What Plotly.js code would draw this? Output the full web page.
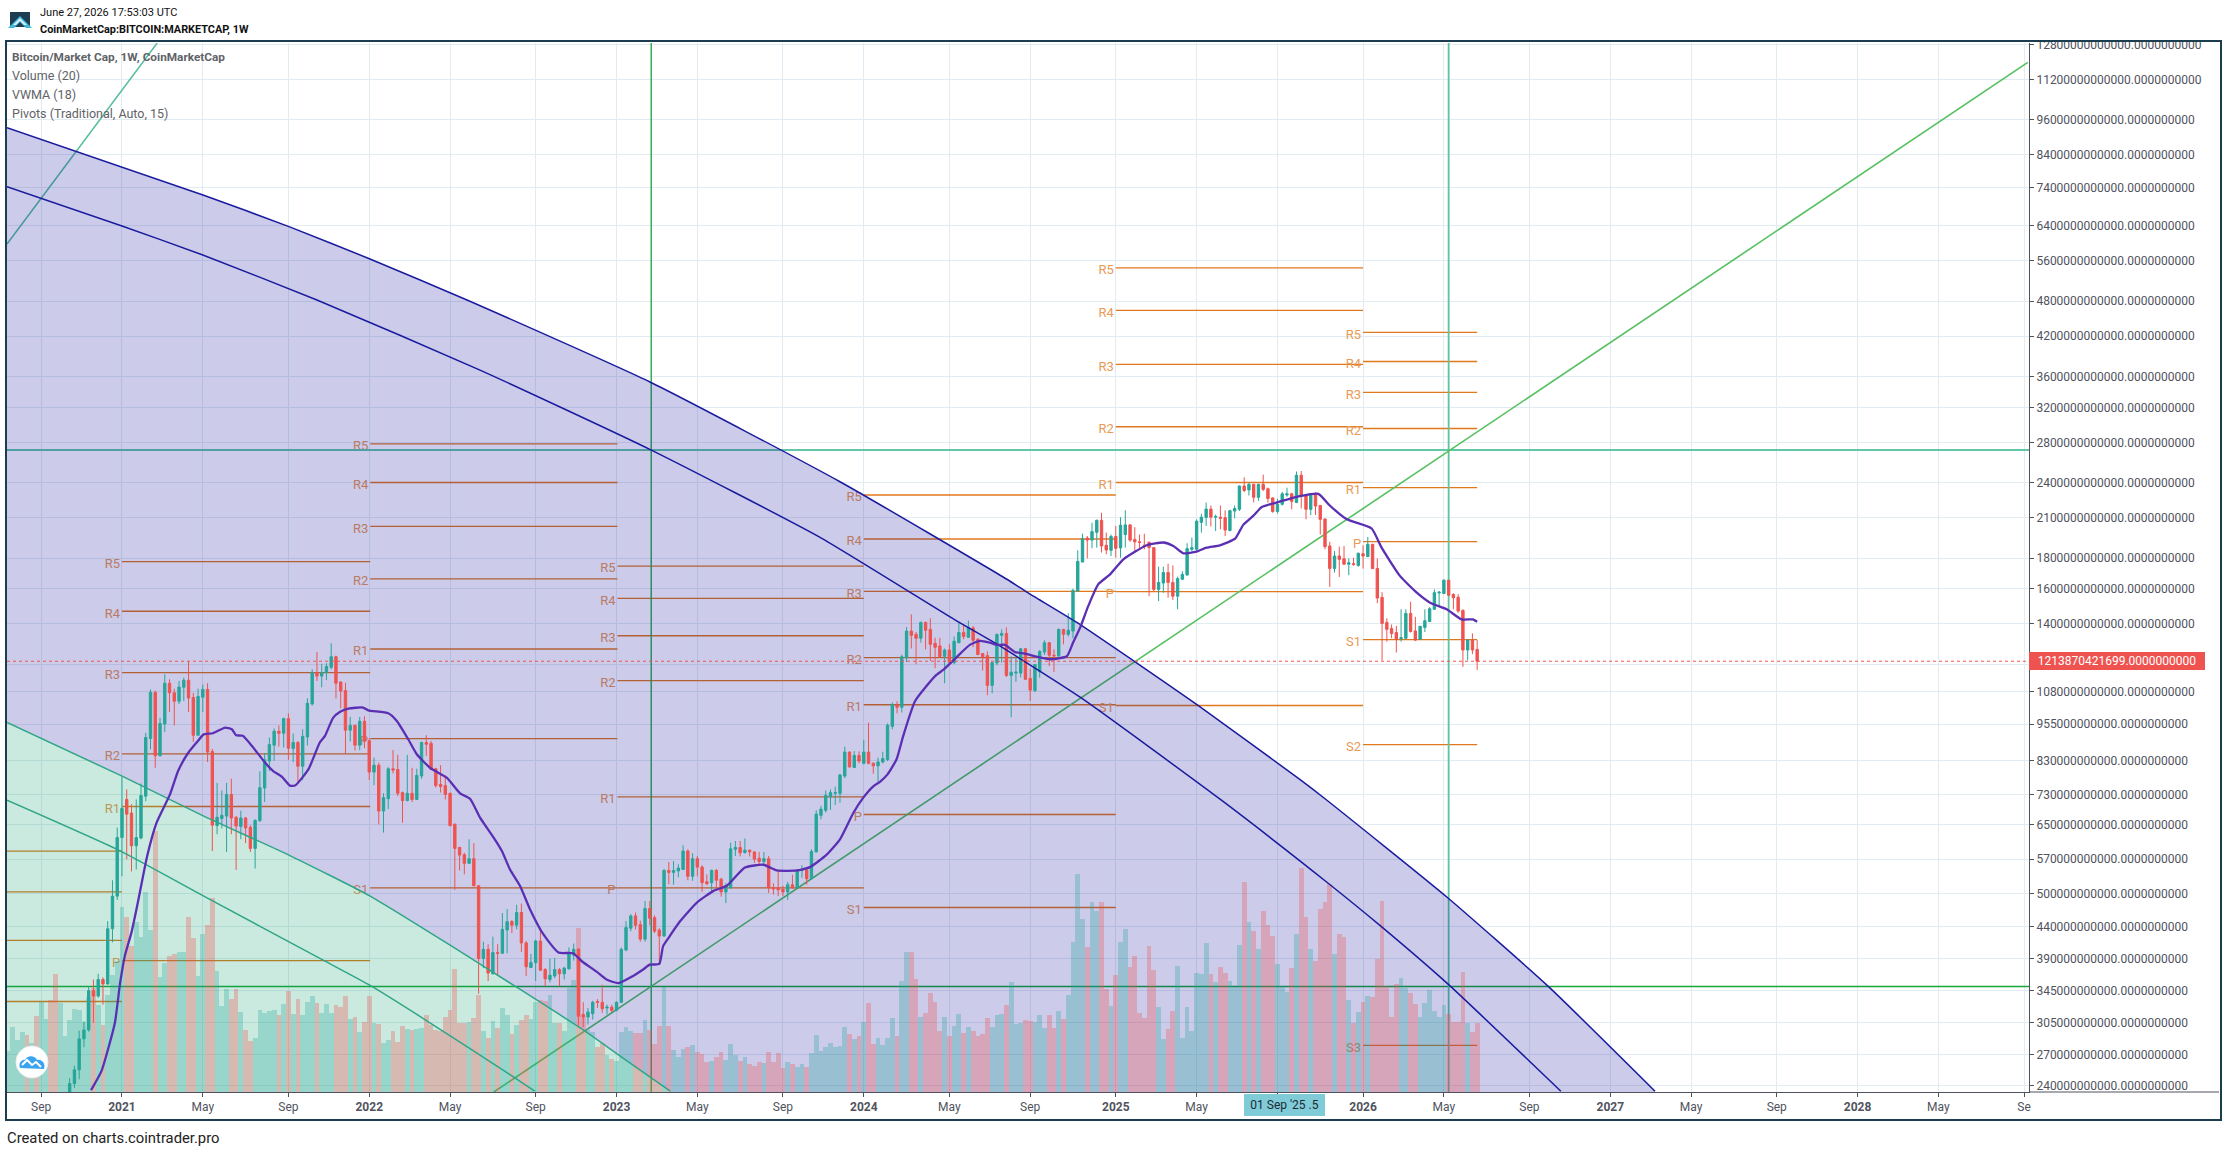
<!DOCTYPE html>
<html>
<head>
<meta charset="utf-8">
<script src="https://cdn.plot.ly/plotly-3.0.1.min.js"></script>
<style>
html,body{margin:0;padding:0;background:#fff;overflow:hidden}
#chart{position:absolute;left:0;top:0;width:2226px;height:1152px}
#frame{position:absolute;left:5px;top:40px;width:2213px;height:1077px;border:2px solid #1c3d4f;pointer-events:none}
#logo{position:absolute;left:8px;top:11px}
#cloud{position:absolute;left:14px;top:1044px}
</style>
</head>
<body>
<div id="chart"></div>
<div id="frame"></div>
<svg id="logo" width="26" height="18" viewBox="0 0 26 18">
<rect x="2" y="1" width="20" height="15" fill="#1d3e52"/>
<path d="M0 17 L12 5 L24 17 L18 17 L12 11 L6 17 Z" fill="#3fb6dc"/>
<path d="M5 14 L12 7 L19 14 L16 14 L12 10 L8 14 Z" fill="#d7f0f8"/>
</svg>
<svg id="cloud" width="36" height="36" viewBox="0 0 36 36">
<circle cx="18" cy="18" r="16" fill="#ffffff" stroke="#eeeeee"/>
<path d="M6 24 C4 19 8 15 11 16 C13 11 21 11 23 16 C28 15 32 20 30 25 Z" fill="#3ba3f0"/>
<path d="M8 21 L13 16 L18 21 L22 18 L27 23" fill="none" stroke="#ffffff" stroke-width="2"/>
</svg>
<script>
// ---------- time axis (weeks counted from the bar of 4 Jan 2021) ----------
var viewStartWeek = -24.18, viewEndWeek = 401.05;
var tickWeeks = [-17,0,17,35,52,69,87,104,121,139,156,174,191,209,226,243,261,278,296,313,330,348,365,382,400];
var tickLabels = ['Sep','<b>2021</b>','May','Sep','<b>2022</b>','May','Sep','<b>2023</b>','May','Sep','<b>2024</b>','May','Sep','<b>2025</b>','May',' ','<b>2026</b>','May','Sep','<b>2027</b>','May','Sep','<b>2028</b>','May','Se'];

// ---------- price axis, billions of USD ----------
var priceTicks = [12800,11200,9600,8400,7400,6400,5600,4800,4200,3600,3200,2800,2400,2100,1800,1600,1400,1200,1080,955,830,730,650,570,500,440,390,345,305,270,240];
var priceBottom = 234.3, priceTop = 12866;

// ---------- weekly candles, billions of USD, first bar is week -11 ----------
var candleStartWeek = -11;
var open = [230,242,255,287,297,345,338,360,354,437,495,
619,716,680,600,618,725,904,1078,846,955,
1116,1076,1042,1099,1129,1057,915,1058,1090,860,
648,666,672,730,669,646,667,644,594,660,
748,829,881,929,922,975,870,890,813,909,
1031,1162,1147,1162,1186,1235,1121,1085,933,950,
881,965,896,795,816,685,718,805,803,735,
713,733,716,783,890,887,805,758,755,733,
651,596,580,561,571,515,390,404,368,399,
398,435,449,443,465,414,377,384,417,374,
360,365,374,368,375,395,404,315,312,316,
331,330,323,324,320,330,403,438,459,444,
420,472,456,435,425,546,542,545,548,588,
534,571,553,523,521,546,528,503,511,592,
596,585,590,586,572,565,571,511,511,508,
503,517,511,546,547,529,586,674,687,723,
733,733,783,858,809,847,822,858,822,814,
826,834,947,1026,1018,1230,1362,1345,1325,1408,
1371,1300,1287,1237,1267,1207,1303,1355,1330,1378,
1320,1250,1240,1107,1206,1340,1350,1150,1160,1160,
1273,1137,1085,1166,1257,1303,1242,1239,1371,1345,
1362,1587,1773,1943,1928,1986,2079,1890,1854,1955,
1871,1969,2043,1933,1915,1890,1910,1873,1597,1636,
1703,1640,1556,1660,1687,1861,1861,2063,2102,2170,
2104,2104,2100,2000,2154,2168,2370,2335,2385,2270,
2385,2345,2265,2150,2210,2290,2300,2225,2470,2290,
2168,2290,2200,2090,1885,1730,1814,1795,1758,1762,
1750,1830,1810,1897,1730,1549,1408,1375,1354,1323,
1325,1457,1363,1320,1381,1413,1480,1575,1572,1654,
1566,1550,1474,1267,1316,1270];
var high = [247,259,296,307,351,360,368,363,450,526,643,
781,744,703,716,761,924,1090,1085,978,1155,
1133,1093,1126,1140,1215,1076,1093,1111,1116,869,
763,741,763,775,672,686,670,649,664,797,
855,907,939,950,978,995,921,895,936,1054,
1177,1258,1202,1205,1300,1240,1125,1118,981,953,
981,984,905,840,824,733,810,865,849,738,
849,808,805,893,915,895,808,816,785,735,
654,598,584,615,606,516,416,412,424,412,
464,471,452,479,481,417,397,419,434,376,
390,391,376,378,407,413,406,330,323,332,
334,353,327,327,331,407,450,462,465,451,
486,486,460,438,549,564,566,559,601,592,
583,577,557,538,548,549,531,520,607,611,
611,617,591,587,586,586,577,520,544,515,
523,537,548,557,552,592,687,699,741,744,
752,790,876,860,861,860,899,960,825,840,
859,957,1037,1042,1245,1383,1452,1357,1412,1412,
1430,1328,1328,1274,1295,1334,1412,1393,1418,1389,
1325,1252,1260,1210,1349,1371,1381,1237,1230,1277,
1277,1180,1200,1267,1315,1305,1270,1375,1373,1458,
1601,1854,1975,1958,2060,2085,2140,1984,1969,2035,
2104,2160,2050,2025,1969,1975,1920,1876,1742,1742,
1762,1750,1677,1712,1905,1946,2087,2131,2225,2200,
2125,2200,2160,2165,2200,2375,2450,2400,2390,2390,
2475,2355,2268,2258,2318,2355,2310,2505,2510,2300,
2295,2315,2205,2092,1915,1849,1880,1885,1798,1802,
1838,1890,1950,1900,1798,1580,1430,1397,1389,1480,
1480,1523,1438,1388,1480,1492,1597,1587,1660,1656,
1574,1568,1480,1320,1350,1316];
var low = [222,238,246,278,295,305,336,327,353,415,488,
534,570,544,548,615,711,867,808,844,926,
1000,950,1031,1043,1000,892,913,1000,826,588,
627,641,586,627,547,615,606,586,550,658,
709,798,830,876,873,833,826,763,771,880,
1025,1126,1099,1130,1177,1053,1014,852,894,863,
864,871,771,756,651,631,690,791,725,655,
711,709,715,775,846,801,749,735,716,646,
507,546,538,560,514,341,376,358,367,366,
397,398,430,436,400,365,376,358,372,351,
356,362,351,360,374,387,302,300,303,309,
323,317,315,318,319,329,401,433,436,416,
416,443,430,381,424,518,517,532,547,526,
525,534,503,516,503,505,494,482,510,577,
576,582,576,562,559,559,501,498,495,495,
488,509,509,531,517,528,585,664,681,688,
701,707,777,808,808,822,819,819,790,764,
822,829,936,995,998,1210,1274,1200,1303,1270,
1215,1182,1230,1116,1204,1200,1300,1320,1327,1281,
1243,1172,1066,1074,1195,1207,1143,980,1122,1141,
1131,1043,1079,1140,1243,1192,1165,1235,1295,1334,
1325,1585,1771,1798,1868,1873,1838,1826,1814,1802,
1802,1873,1915,1845,1866,1861,1556,1587,1527,1577,
1547,1533,1480,1655,1685,1849,1849,1984,2035,2030,
1996,2009,1958,1993,2095,2154,2315,2285,2225,2240,
2325,2225,2140,2133,2200,2275,2168,2220,2175,2087,
2120,2122,1969,1861,1612,1703,1675,1755,1686,1748,
1742,1729,1808,1727,1515,1218,1308,1325,1255,1308,
1320,1354,1311,1316,1357,1411,1478,1498,1570,1556,
1480,1461,1188,1218,1247,1174];
var close = [242,255,287,297,345,338,360,354,437,495,619,
692,677,600,619,727,907,1078,846,957,1116,
1076,1042,1100,1129,1055,915,1061,1090,858,649,
669,674,730,667,647,667,642,594,661,749,
833,883,929,922,975,871,890,813,911,1034,
1162,1147,1162,1190,1235,1116,1083,933,950,881,
965,894,795,816,685,721,805,801,733,713,
733,716,785,890,884,803,755,752,730,648,
594,579,561,571,515,390,404,369,399,398,
436,449,443,465,414,378,384,417,373,361,
366,374,368,376,398,404,313,312,318,330,
330,322,324,320,330,404,439,459,443,420,
472,455,433,425,546,542,546,551,588,534,
571,553,521,519,546,526,503,515,593,596,
584,590,586,570,565,571,511,509,507,503,
517,511,546,548,529,587,677,690,727,735,
735,786,858,811,847,829,858,822,814,826,
837,951,1029,1018,1235,1362,1340,1325,1408,1366,
1295,1280,1235,1267,1210,1310,1355,1334,1381,1315,
1245,1235,1107,1207,1345,1350,1150,1164,1164,1273,
1133,1087,1199,1260,1303,1242,1239,1371,1345,1366,
1591,1777,1938,1928,1991,2079,1885,1856,1955,1868,
2040,2043,1928,1915,1910,1885,1873,1597,1640,1703,
1640,1556,1664,1691,1866,1873,2072,2104,2170,2104,
2110,2095,2003,2157,2175,2370,2330,2385,2270,2385,
2340,2260,2150,2210,2300,2300,2235,2470,2290,2168,
2290,2195,2087,1880,1730,1814,1791,1758,1768,1756,
1833,1814,1897,1729,1545,1402,1371,1350,1320,1328,
1457,1360,1316,1387,1417,1483,1577,1580,1654,1562,
1547,1470,1267,1316,1267,1213.87];

// ---------- weekly volume, billions of USD, first bar is week -24 ----------
var volumeStartWeek = -24;
var volume = [207,326,258,302,283,244,380,448,363,458,592,445,
280,360,415,410,352,477,518,435,335,485,585,655,
927,877,730,852,777,1002,810,1307,577,647,
680,690,700,700,877,772,580,790,835,972,
605,430,515,465,515,400,310,255,270,410,
393,407,410,385,440,507,390,465,385,452,
480,443,394,440,394,436,424,482,363,373,
302,348,482,343,339,246,261,305,249,331,
317,309,317,322,385,334,309,304,377,411,
614,343,343,351,372,487,305,272,356,321,
419,385,288,334,360,385,363,448,462,453,
487,343,343,305,521,560,818,377,309,300,
227,244,185,165,156,300,326,305,297,297,
360,312,241,331,526,331,210,173,216,227,
236,199,190,148,156,173,202,161,241,187,
156,176,139,131,151,144,202,148,197,122,
151,139,126,139,127,193,287,204,227,246,
227,231,326,292,266,278,351,445,241,272,
236,272,372,282,557,699,699,567,377,397,
496,448,305,377,280,331,390,295,326,305,
280,292,368,326,385,390,436,552,339,346,
360,356,351,385,321,385,321,406,365,487,
750,1089,867,725,950,903,950,516,431,585,
750,815,626,682,397,368,730,609,424,266,
317,407,631,272,424,305,597,592,747,592,
552,623,593,555,527,735,1050,852,805,715,
905,835,780,640,530,502,618,790,1118,877,
715,655,915,948,1040,690,790,775,460,343,
400,448,480,477,665,955,530,373,540,570,
518,493,440,373,443,510,405,373,435,390,
348,348,600,343,300,345];
var earlyRedVolumeWeeks = [-20,-18,-15,-14];   // bars whose candle is below the visible range
var volumeAxisMax = 5245;

// ---------- VWMA (18) ----------
var vwmaWeeks = [-6.5,-4.3,-1.5,-0.4,0.6,2,3.2,5.3,7.3,10.1,11.8,13.9,15.7,17.2,19.1,21.7,23.1,24,25.4,27.3,30.1,31.8,33.6,35.3,36.4,39.2,41.6,42.7,44.4,45.8,47.6,50.7,51.8,56,57.8,60.2,62,64.8,68.3,71.1,73.2,75.3,78.4,79.9,81.6,83.7,85.8,88.6,91.8,94.9,96.7,99.8,101.9,104.4,107.5,109.6,111,113,113.8,115.2,117.4,120.9,124.4,127.2,131,134.9,137.7,141.9,144.7,148.2,151,153.8,155.9,158,159.4,161,162.9,164.3,166.8,171,172.7,175.2,178.3,180.4,182.5,184,185.7,187.8,189.9,192.4,195.2,198.7,200,201.5,203.2,205.3,207.8,210.6,215.5,219,221.1,223.2,226,228.1,230.9,234.1,235.8,237.9,239.7,242.8,247.7,251.6,254,257.6,262.8,264.9,268.8,272.3,275.1,278.6,281.7,284.1,285];
var vwmaValues = [236,254,305,355,394,431,477,577,656,730,798,855,890,918,922,942,936,915,913,879,824,798,781,755,755,803,890,913,978,1000,1013,1017,1006,995,966,901,851,808,778,733,718,668,615,588,548,515,471,428,399,398,386,371,360,355,365,374,381,382,409,425,450,483,505,515,552,558,546,546,553,580,615,680,721,753,766,788,835,913,1043,1147,1174,1226,1292,1312,1303,1292,1292,1257,1250,1235,1223,1237,1303,1380,1498,1628,1691,1791,1890,1910,1885,1833,1845,1873,1890,1938,2043,2114,2187,2225,2280,2300,2200,2087,2015,1873,1680,1577,1518,1480,1424,1424,1411];

// ---------- last price ----------
var lastPrice = 1213.87;
var lastPriceLabel = '1213870421699.0000000000';

// ---------- pivots (Traditional), billions of USD ----------
var pivotStart = [-24.18,0,52.2,104.2,156,209,261];
var pivotEnd   = [0,52.2,104.2,156,209,261,285];
var pivotNames = [
  ['','','',''],
  ['R5','R4','R3','R2','R1','P'],
  ['R5','R4','R3','R2','R1','P','S1'],
  ['R5','R4','R3','R2','R1','P'],
  ['R5','R4','R3','R2','R1','P','S1'],
  ['R5','R4','R3','R2','R1','P','S1'],
  ['R5','R4','R3','R2','R1','P','S1','S2','S3']
];
var pivotLevels = [
  [588,503,418,331],
  [1775,1469,1162,852,697,387],
  [2783,2402,2032,1663,1272,903,511],
  [1746,1543,1338,1127,723,511],
  [2290,1936,1585,1231,1028,676,474],
  [5450,4634,3770,2972,2402,1583,1025],
  [4260,3813,3389,2952,2355,1916,1318,883,280]
];

// ---------- drawn arcs ----------
var upperArcWeeks = [-24.18,17.03,35.12,52.16,72.56,111.04,151,186.1,190.3,200.8,212.6,226.3,247.7,253.2,278.8,299.9,322.4];
var upperArcValues = [9309,7201,6381,5640,4822,3526,2409,1660,1581,1408,1218,1026,773,716,492,351,235];
var middleArcWeeks = [-24.18,0,17,41,75.3,111,146.8,175,184.6,201.5,231,253.4,264.8,279,302.6];
var middleArcValues = [7431,6396,5725,4822,3690,2726,1948,1424,1287,1058,716,522,441,353,235];
var greenArcWeeks = [-24.18,0.13,17.2,35.1,52.2,69.1,82.4,97,104.7,115.3];
var greenArcValues = [961,782,672,579,495,410,352,297,269,235];
var lowerGreenArcWeeks = [-24.18,-0.7,17.2,42.5,52.2,63.7,82.4,86.8];
var lowerGreenArcValues = [714,590,495,387,352,309,248,235];

// ---------- drawn straight lines ----------
var diagonalWeeks = [78.2,400.8], diagonalValues = [234.3,11951];
var steepWeeks = [-24.18,7.4], steepValues = [5972,12866];
var upperLevel = 2720, lowerLevel = 350.5;
var leftVerticalWeek = 111.3, rightVerticalWeek = 279;

// ---------- helpers ----------
var T0 = Date.UTC(2021,0,4), WK = 7*864e5;
function weekDate(w){ return new Date(T0 + w*WK).toISOString().slice(0,19); }
function X(px){ return (px-7)/2022; }
function Y(py){ return 1-(py-43)/1049; }
var FONT = 'Roboto, "Liberation Sans", sans-serif';

var candleDates = open.map(function(_,k){ return weekDate(candleStartWeek+k); });
var volumeDates = volume.map(function(_,k){ return weekDate(volumeStartWeek+k); });
var volumeColors = volume.map(function(_,k){
  var w = volumeStartWeek+k, c = w-candleStartWeek, down;
  down = c>=0 ? close[c]<open[c] : earlyRedVolumeWeeks.indexOf(w)>=0;
  return down ? 'rgba(239,83,80,0.32)' : 'rgba(38,166,154,0.3)';
});

// pivot lines and labels (labels sit just left of each line and slightly below it)
var pvX=[],pvY=[],plX=[],plY=[],plT=[];
pivotLevels.forEach(function(levels,p){
  levels.forEach(function(v,n){
    pvX.push(weekDate(pivotStart[p]),weekDate(pivotEnd[p]),null);
    pvY.push(v,v,null);
    if(pivotNames[p][n]){ plX.push(weekDate(pivotStart[p]-0.4)); plY.push(v*0.9886); plT.push(pivotNames[p][n]); }
  });
});
function dates(a){ return a.map(weekDate); }
function lineTrace(xs,ys,color,width,axis,dash,shape){
  return {type:'scatter',mode:'lines',x:xs,y:ys,yaxis:axis,hoverinfo:'skip',showlegend:false,
          line:{color:color,width:width,dash:dash||'solid',shape:shape||'linear',smoothing:0.5}};
}
var startD = weekDate(viewStartWeek), endD = weekDate(viewEndWeek);

var lavX = dates(upperArcWeeks).concat(dates(greenArcWeeks.slice().reverse()));
var lavY = upperArcValues.concat(greenArcValues.slice().reverse());
lavX.splice(upperArcWeeks.length,0,weekDate(upperArcWeeks[upperArcWeeks.length-1]),weekDate(greenArcWeeks[greenArcWeeks.length-1]));
lavY.splice(upperArcValues.length,0,priceBottom,priceBottom);
var grnX = dates(greenArcWeeks).concat([weekDate(greenArcWeeks[greenArcWeeks.length-1]),startD]);
var grnY = greenArcValues.concat([priceBottom,priceBottom]);

var traces = [
  // drawings beneath the tinted regions
  lineTrace(pvX,pvY,'#e0791e',1.3,'y'),
  {type:'scatter',mode:'text',x:plX,y:plY,text:plT,yaxis:'y',textposition:'middle left',hoverinfo:'skip',showlegend:false,
   textfont:{family:FONT,size:13,color:'#e99a55'}},
  lineTrace([startD,endD],[upperLevel,upperLevel],'#63c6a6',2,'y'),
  lineTrace([startD,endD],[lowerLevel,lowerLevel],'#18a838',1.6,'y'),
  lineTrace([weekDate(leftVerticalWeek),weekDate(leftVerticalWeek)],[priceBottom,priceTop],'#2aa84a',1.4,'y'),
  lineTrace([weekDate(rightVerticalWeek),weekDate(rightVerticalWeek)],[priceBottom,priceTop],'#5ec4a0',1.8,'y'),
  lineTrace(dates(diagonalWeeks),diagonalValues,'#55c05f',1.6,'y'),
  lineTrace(dates(steepWeeks),steepValues,'#55bd9e',1.5,'y'),
  // tinted regions
  {type:'scatter',mode:'none',x:lavX,y:lavY,yaxis:'y',fill:'toself',fillcolor:'rgba(0,0,149,0.2)',hoverinfo:'skip',showlegend:false},
  {type:'scatter',mode:'none',x:grnX,y:grnY,yaxis:'y',fill:'toself',fillcolor:'rgba(0,152,98,0.204)',hoverinfo:'skip',showlegend:false},
  // volume
  {type:'bar',x:volumeDates,y:volume,yaxis:'y2',marker:{color:volumeColors,line:{width:0}},hoverinfo:'skip',showlegend:false},
  // arcs
  lineTrace(dates(upperArcWeeks),upperArcValues,'#1a1a9e',1.5,'y3','solid','spline'),
  lineTrace(dates(middleArcWeeks),middleArcValues,'#1a1a9e',1.5,'y3','solid','spline'),
  lineTrace(dates(greenArcWeeks),greenArcValues,'#2fa587',1.5,'y3','solid','spline'),
  lineTrace(dates(lowerGreenArcWeeks),lowerGreenArcValues,'#2fa587',1.5,'y3','solid','spline'),
  // VWMA
  {type:'scatter',mode:'lines',x:dates(vwmaWeeks),y:vwmaValues,yaxis:'y3',hoverinfo:'skip',showlegend:false,
   line:{color:'#5a2fb3',width:2.3,shape:'spline',smoothing:0.5}},
  // candles
  {type:'candlestick',x:candleDates,open:open,high:high,low:low,close:close,yaxis:'y3',showlegend:false,hoverinfo:'skip',whiskerwidth:0,
   increasing:{line:{color:'#26a69a',width:1},fillcolor:'#26a69a'},
   decreasing:{line:{color:'#ef5350',width:1},fillcolor:'#ef5350'}},
  // last price
  lineTrace([startD,endD],[lastPrice,lastPrice],'#ef5350',1,'y3','dot')
];

function note(text,px,py,size,color,extra){
  var a = {text:text,xref:'paper',yref:'paper',x:X(px),y:Y(py),xanchor:'left',yanchor:'middle',showarrow:false,
           font:{family:FONT,size:size,color:color},align:'left'};
  for(var k in (extra||{})) a[k]=extra[k];
  return a;
}
var logRange = [Math.log10(priceBottom),Math.log10(priceTop)];
var layout = {
  width:2226,height:1152,autosize:false,
  margin:{l:7,r:197,t:43,b:60,pad:0},
  paper_bgcolor:'#ffffff',plot_bgcolor:'#ffffff',
  showlegend:false,dragmode:false,
  bargap:0,boxgap:0.5,boxgroupgap:0,
  xaxis:{type:'date',range:[startD,endD],tickmode:'array',tickvals:dates(tickWeeks),ticktext:tickLabels,
    showgrid:true,gridcolor:'#e1ecf2',gridwidth:1,showline:true,linecolor:'#50535e',linewidth:1,
    ticks:'outside',ticklen:4,tickcolor:'#50535e',tickangle:0,
    tickfont:{family:FONT,size:12,color:'#50535e'},rangeslider:{visible:false},fixedrange:true,zeroline:false},
  yaxis:{type:'log',range:logRange,visible:false,showgrid:false,fixedrange:true},
  yaxis2:{type:'linear',range:[0,volumeAxisMax],overlaying:'y',visible:false,showgrid:false,fixedrange:true},
  yaxis3:{type:'log',range:logRange,overlaying:'y',side:'right',anchor:'x',
    tickmode:'array',tickvals:priceTicks,ticktext:priceTicks.map(function(v){return (v*1e9).toFixed(10);}),
    showgrid:true,gridcolor:'#e1ecf2',gridwidth:1,showline:true,linecolor:'#50535e',linewidth:1,
    ticks:'outside',ticklen:4,tickcolor:'#50535e',tickfont:{family:FONT,size:12,color:'#50535e'},
    fixedrange:true,zeroline:false},
  shapes:[{type:'line',xref:'paper',yref:'paper',x0:1,x1:X(2219),y0:0,y1:0,line:{color:'#50535e',width:1}}],
  annotations:[
    note('June 27, 2026 17:53:03 UTC',38,12.5,11,'#111111'),
    note('<b>CoinMarketCap:BITCOIN:MARKETCAP, 1W</b>',38,29.5,10.9,'#111111'),
    note('<b>Bitcoin/Market Cap, 1W, CoinMarketCap</b>',10,57,11.8,'#5f6368'),
    note('Volume (20)',10,75,12.5,'#5f6368'),
    note('VWMA (18)',10,94,12.5,'#5f6368'),
    note('Pivots (Traditional, Auto, 15)',10,113,12.5,'#5f6368'),
    note('Created on charts.cointrader.pro',5,1138,14.8,'#222222'),
    note(lastPriceLabel,2029,661,12,'#ffffff',{bgcolor:'#ef5350',width:176,height:18,align:'center',borderpad:0,borderwidth:0}),
    note("01 Sep '25 .5",1244,1104.5,12,'#1c2a33',{bgcolor:'#7fcbd8',width:81,height:22,align:'center',borderpad:0,borderwidth:0})
  ]
};
Plotly.newPlot('chart',traces,layout,{staticPlot:true,displayModeBar:false,responsive:false});
</script>
</body>
</html>
